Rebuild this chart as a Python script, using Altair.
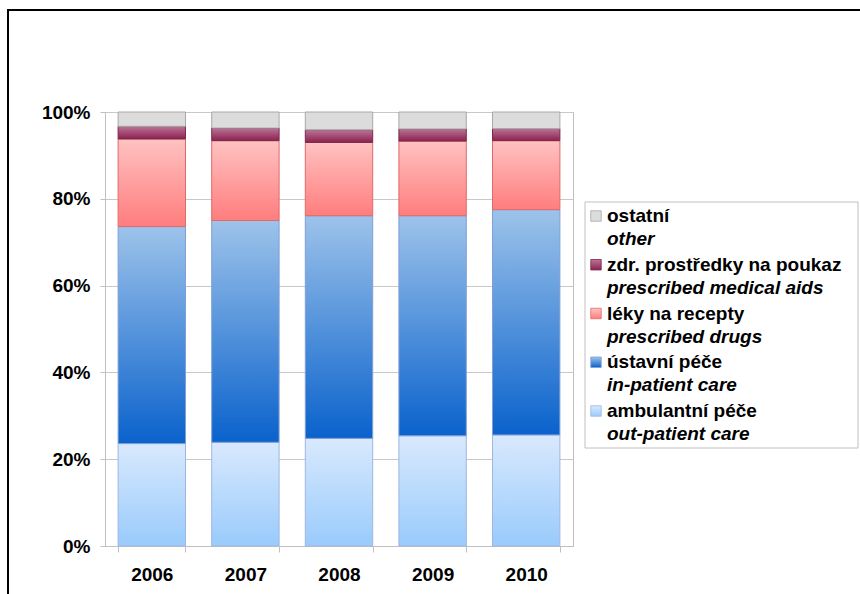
import altair as alt
import pandas as pd

# Structure of health expenditure by type of care, shares in %
years = ["2006", "2007", "2008", "2009", "2010"]
ambulantni = [23.6, 23.9, 24.8, 25.4, 25.6]      # out-patient care
ustavni = [50.0, 51.1, 51.3, 50.7, 51.9]         # in-patient care
leky = [20.2, 18.4, 16.9, 17.2, 15.9]            # prescribed drugs
pomucky = [2.9, 2.9, 2.9, 2.8, 2.8]              # prescribed medical aids
ostatni = [3.3, 3.7, 4.1, 3.9, 3.8]              # other

series_cz = ["ambulantní péče", "ústavní péče", "léky na recepty",
             "zdr. prostředky na poukaz", "ostatní"]
series_en = ["out-patient care", "in-patient care", "prescribed drugs",
             "prescribed medical aids", "other"]
series_values = [ambulantni, ustavni, leky, pomucky, ostatni]

# fill gradients (top colour, bottom colour) and outline colour per series
styles = [
    ("#d9e9fd", "#99cbfc", "#9fb6e2"),
    ("#9dc3ea", "#0a62cc", "#7f9fd6"),
    ("#ffc2c2", "#ff7d7d", "#e06a6a"),
    ("#bb7497", "#8c2250", "#7a2a4c"),
    ("#dcdcdc", "#dcdcdc", "#a8a8a8"),
]

rows = []
for k, (name, vals) in enumerate(zip(series_cz, series_values)):
    for y, v in zip(years, vals):
        rows.append({"year": y, "series": name, "k": k, "value": v})
df = pd.DataFrame(rows)

legend_df = pd.DataFrame({
    "series": series_cz[::-1],
    "en": series_en[::-1],
})

FONT = "Liberation Sans"
FS = 19
W, H = 468, 434


def grad(top, bottom):
    return alt.Gradient(
        gradient="linear",
        stops=[alt.GradientStop(color=top, offset=0),
               alt.GradientStop(color=bottom, offset=1)],
        x1=0, x2=0, y1=0, y2=1,
    )


x_enc = alt.X(
    "year:N",
    sort=years,
    scale=alt.Scale(paddingInner=0.28, paddingOuter=0.14),
    axis=alt.Axis(
        title=None, labelAngle=0, labelFont=FONT, labelFontSize=FS,
        labelFontWeight="bold", labelColor="#000000", labelPadding=13,
        tickBand="extent", tickSize=6, tickColor="#c0c0c0",
        domainColor="#c0c0c0", grid=False,
    ),
)

y_scale = alt.Scale(domain=[0, 100], nice=False)
y_axis = alt.Axis(
    title=None, values=[0, 20, 40, 60, 80, 100],
    labelExpr="datum.value + '%'", labelFont=FONT, labelFontSize=FS,
    labelFontWeight="bold", labelColor="#000000", labelPadding=10,
    tickSize=5, tickColor="#c0c0c0", domainColor="#c0c0c0",
    grid=True, gridColor="#c8c8c8",
)

base = alt.Chart(df).transform_stack(
    stack="value", groupby=["year"], as_=["y0", "y1"],
    sort=[alt.SortField("k", order="ascending")],
)

bar_layers = []
for k, name in enumerate(series_cz):
    top, bottom, edge = styles[k]
    bar_layers.append(
        base.transform_filter(alt.datum.series == name)
        .mark_bar(fill=grad(top, bottom), stroke=edge, strokeWidth=1)
        .encode(
            x=x_enc,
            y=alt.Y("y0:Q", scale=y_scale, axis=y_axis),
            y2="y1:Q",
        )
    )
bars = alt.layer(*bar_layers)

# legend panel to the right of the plot
one = pd.DataFrame({"a": [0]})
legend_box = alt.Chart(one).mark_rect(
    fill="white", stroke="#c0c0c0", strokeWidth=1
).encode(
    x=alt.value(480), x2=alt.value(753),
    y=alt.value(90), y2=alt.value(336),
)

ly = alt.Y(
    "series:N",
    scale=alt.Scale(type="point", domain=series_cz[::-1], range=[104, 299],
                    padding=0),
    axis=None,
)
legend_layers = [legend_box]
for k, name in enumerate(series_cz):
    top, bottom, edge = styles[k]
    legend_layers.append(
        alt.Chart(legend_df).transform_filter(alt.datum.series == name)
        .mark_square(size=110, fill=grad(top, bottom), stroke=edge,
                     strokeWidth=0.8, opacity=1)
        .encode(x=alt.value(491), y=ly)
    )
legend_layers.append(
    alt.Chart(legend_df).mark_text(
        align="left", baseline="middle", font=FONT, fontSize=FS,
        fontWeight="bold", color="#000000",
    ).encode(x=alt.value(502), y=ly, text="series:N")
)
legend_layers.append(
    alt.Chart(legend_df).mark_text(
        align="left", baseline="middle", font=FONT, fontSize=FS,
        fontWeight="bold", fontStyle="italic", color="#000000", dy=23,
    ).encode(x=alt.value(502), y=ly, text="en:N")
)
legend = alt.layer(*legend_layers)

# outer frame lines (left and top edge of the slide box)
frame_left = alt.Chart(one).mark_rule(color="#000000", strokeWidth=2).encode(
    x=alt.value(-97), y=alt.value(-102), y2=alt.value(490)
)
frame_top = alt.Chart(one).mark_rule(color="#000000", strokeWidth=2).encode(
    x=alt.value(-98), x2=alt.value(760), y=alt.value(-102)
)

chart = alt.layer(bars, legend, frame_left, frame_top).resolve_scale(
    y="independent"
).properties(
    width=W, height=H,
    autosize=alt.AutoSizeParams(type="none"),
    padding={"left": 105, "top": 112, "right": 287, "bottom": 48},
    background="white",
).configure_view(stroke="#c0c0c0", strokeWidth=1)

chart.save("out.html", embed_options={"renderer": "svg", "actions": False})
